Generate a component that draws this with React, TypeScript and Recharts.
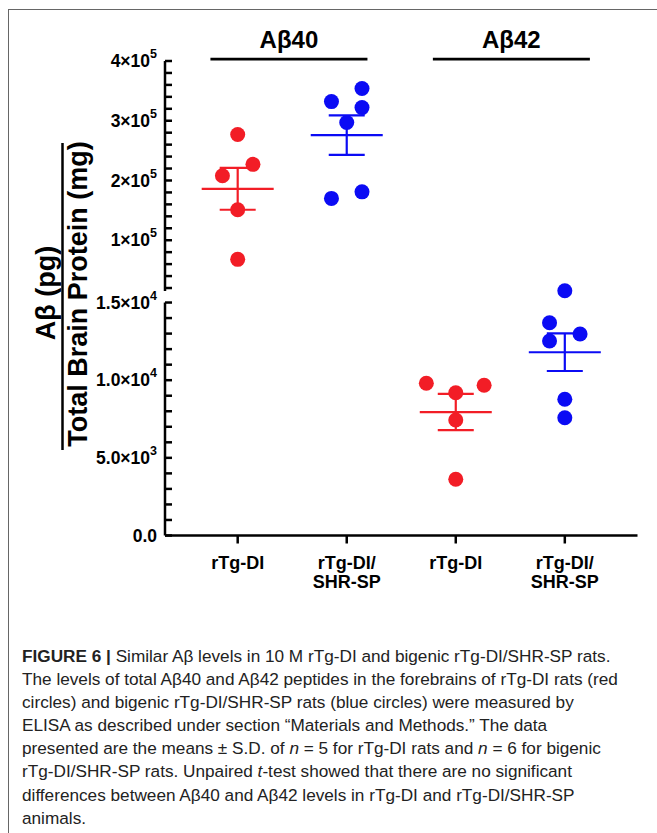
import React from "react";
import { ScatterChart, Scatter, XAxis, YAxis, ErrorBar, ReferenceLine } from "recharts";

// column positions on the x axis and their labels
const columns = [1, 2, 3, 4];
const columnLabels = [["rTg-DI"], ["rTg-DI/", "SHR-SP"], ["rTg-DI"], ["rTg-DI/", "SHR-SP"]];

// Aβ40, upper segment of the broken axis
const ab40Tg = [277000, 227000, 208000, 151000, 68000];
const ab40TgSpread = [0, 0.14, -0.14, 0, 0];
const ab40Bi = [354000, 332000, 322000, 297000, 181000, 170000];
const ab40BiSpread = [0.14, -0.14, 0.14, 0, 0.14, -0.14];

// Aβ42, lower segment
const ab42Tg = [9800, 9670, 9190, 7440, 3620];
const ab42TgSpread = [-0.27, 0.26, 0, 0, 0];
const ab42Bi = [15760, 13700, 12970, 12520, 8770, 7580];
const ab42BiSpread = [0, -0.14, 0.14, -0.14, 0, 0];

// mean and error bar per column
const means = [186000, 276000, 7950, 11800];
const errors = [35000, 33000, 1170, 1210];

// axis ticks
const upperTicks = [
  20000, 40000, 60000, 80000, 100000, 120000, 140000, 160000, 180000, 200000,
  220000, 240000, 260000, 280000, 300000, 320000, 340000, 360000, 380000, 400000,
];
const upperMajor = [100000, 200000, 300000, 400000];
const upperLabels = [["1×10", "5"], ["2×10", "5"], ["3×10", "5"], ["4×10", "5"]];
const lowerTicks = [
  0, 1000, 2000, 3000, 4000, 5000, 6000, 7000, 8000, 9000, 10000, 11000, 12000,
  13000, 14000, 15000,
];
const lowerMajor = [0, 5000, 10000, 15000];
const lowerLabels = [["0.0", ""], ["5.0×10", "3"], ["1.0×10", "4"], ["1.5×10", "4"]];

const groupTitles = ["Aβ40", "Aβ42"];
const groupSpans = [
  [0.75, 2.19],
  [2.79, 4.23],
];

const RED = "#f21d26";
const BLUE = "#0b0bf4";
const FONT = "'Liberation Sans', Arial, Helvetica, sans-serif";
const X_DOMAIN = [1 / 3, 14 / 3];

const toPoints = (col: number, vals: number[], spread: number[]) =>
  vals.map((v, i) => ({ x: col + spread[i], y: v }));

const meanRow = (i: number) => [{ x: columns[i], y: means[i], err: errors[i] }];

const Dot = (color: string) => (p: any) => <circle cx={p.cx} cy={p.cy} r={7.5} fill={color} />;

const MeanLine = (color: string) => (p: any) => (
  <line x1={p.cx - 36} x2={p.cx + 36} y1={p.cy} y2={p.cy} stroke={color} strokeWidth={2.2} />
);

const makeYTick = (major: number[], labels: string[][]) => (p: any) => {
  const { x, y, payload } = p;
  const i = major.indexOf(payload.value);
  return (
    <g>
      <line x1={x} x2={x + 7} y1={y} y2={y} stroke="#000" strokeWidth={2.5} />
      {i >= 0 && (
        <text
          x={x - 8}
          y={y + 6.2}
          textAnchor="end"
          fontFamily={FONT}
          fontWeight="bold"
          fontSize={17.5}
          fill="#000"
        >
          {labels[i][0]}
          {labels[i][1] && (
            <tspan dy={-9} fontSize={12.5}>
              {labels[i][1]}
            </tspan>
          )}
        </text>
      )}
    </g>
  );
};

const XTick = (p: any) => {
  const { x, y, payload } = p;
  const lines = columnLabels[columns.indexOf(payload.value)] || [];
  return (
    <g>
      <line x1={x} x2={x} y1={y} y2={y + 8} stroke="#000" strokeWidth={2.5} />
      {lines.map((t, k) => (
        <text
          key={k}
          x={x}
          y={y + 33.5 + k * 19}
          textAnchor="middle"
          fontFamily={FONT}
          fontWeight="bold"
          fontSize={18}
          fill="#000"
        >
          {t}
        </text>
      ))}
    </g>
  );
};

const captionLines: React.ReactNode[] = [
  <>
    <b>FIGURE 6 |</b> Similar Aβ levels in 10 M rTg-DI and bigenic rTg-DI/SHR-SP rats.
  </>,
  <>The levels of total Aβ40 and Aβ42 peptides in the forebrains of rTg-DI rats (red</>,
  <>circles) and bigenic rTg-DI/SHR-SP rats (blue circles) were measured by</>,
  <>ELISA as described under section “Materials and Methods.” The data</>,
  <>
    presented are the means ± S.D. of <i>n</i> = 5 for rTg-DI rats and <i>n</i> = 6 for bigenic
  </>,
  <>
    rTg-DI/SHR-SP rats. Unpaired <i>t</i>-test showed that there are no significant
  </>,
  <>differences between Aβ40 and Aβ42 levels in rTg-DI and rTg-DI/SHR-SP</>,
  <>animals.</>,
];

export default function App() {
  return (
    <div
      style={{
        position: "fixed",
        left: 0,
        top: 0,
        width: 657,
        height: 833,
        overflow: "hidden",
        background: "#fff",
      }}
    >
      <div
        style={{
          position: "absolute",
          left: 8,
          top: 9,
          width: 700,
          height: 900,
          border: "1px solid #666",
        }}
      />

      {/* upper segment: Aβ40 */}
      <div style={{ position: "absolute", left: 0, top: 0 }}>
        <ScatterChart width={657} height={300} margin={{ top: 61, right: 19.5, bottom: 9, left: 0 }}>
          <XAxis type="number" dataKey="x" domain={X_DOMAIN} hide />
          <YAxis
            type="number"
            dataKey="y"
            width={165}
            domain={[15000, 400000]}
            ticks={upperTicks}
            interval={0}
            tickSize={0}
            tickMargin={0}
            tickLine={false}
            axisLine={{ stroke: "#000", strokeWidth: 2.5 }}
            tick={makeYTick(upperMajor, upperLabels)}
          />
          {groupTitles.map((t, i) => (
            <ReferenceLine
              key={t}
              segment={[
                { x: groupSpans[i][0], y: 403000 },
                { x: groupSpans[i][1], y: 403000 },
              ]}
              stroke="#000"
              strokeWidth={2.8}
              ifOverflow="visible"
              label={{
                value: t,
                position: "top",
                offset: 11,
                fontSize: 24,
                fontWeight: "bold",
                fontFamily: FONT,
                fill: "#000",
              }}
            />
          ))}
          <Scatter data={toPoints(1, ab40Tg, ab40TgSpread)} shape={Dot(RED)} isAnimationActive={false} />
          <Scatter data={toPoints(2, ab40Bi, ab40BiSpread)} shape={Dot(BLUE)} isAnimationActive={false} />
          <Scatter data={meanRow(0)} shape={MeanLine(RED)} isAnimationActive={false}>
            <ErrorBar dataKey="err" direction="y" width={18} stroke={RED} strokeWidth={2.2} isAnimationActive={false} />
          </Scatter>
          <Scatter data={meanRow(1)} shape={MeanLine(BLUE)} isAnimationActive={false}>
            <ErrorBar dataKey="err" direction="y" width={18} stroke={BLUE} strokeWidth={2.2} isAnimationActive={false} />
          </Scatter>
        </ScatterChart>
      </div>

      {/* lower segment: Aβ42 */}
      <div style={{ position: "absolute", left: 0, top: 0 }}>
        <ScatterChart width={657} height={620} margin={{ top: 287, right: 19.5, bottom: 24.5, left: 0 }}>
          <XAxis
            type="number"
            dataKey="x"
            domain={X_DOMAIN}
            ticks={columns}
            interval={0}
            height={60}
            tickSize={0}
            tickMargin={0}
            tickLine={false}
            axisLine={{ stroke: "#000", strokeWidth: 2.5 }}
            tick={XTick}
          />
          <YAxis
            type="number"
            dataKey="y"
            width={165}
            domain={[0, 16000]}
            ticks={lowerTicks}
            interval={0}
            tickSize={0}
            tickMargin={0}
            tickLine={false}
            axisLine={false}
            tick={makeYTick(lowerMajor, lowerLabels)}
          />
          <ReferenceLine
            segment={[
              { x: X_DOMAIN[0], y: 0 },
              { x: X_DOMAIN[0], y: 15000 },
            ]}
            stroke="#000"
            strokeWidth={2.5}
            ifOverflow="visible"
          />
          <Scatter data={toPoints(3, ab42Tg, ab42TgSpread)} shape={Dot(RED)} isAnimationActive={false} />
          <Scatter data={toPoints(4, ab42Bi, ab42BiSpread)} shape={Dot(BLUE)} isAnimationActive={false} />
          <Scatter data={meanRow(2)} shape={MeanLine(RED)} isAnimationActive={false}>
            <ErrorBar dataKey="err" direction="y" width={18} stroke={RED} strokeWidth={2.2} isAnimationActive={false} />
          </Scatter>
          <Scatter data={meanRow(3)} shape={MeanLine(BLUE)} isAnimationActive={false}>
            <ErrorBar dataKey="err" direction="y" width={18} stroke={BLUE} strokeWidth={2.2} isAnimationActive={false} />
          </Scatter>
        </ScatterChart>
      </div>

      {/* y axis title as a fraction */}
      <svg width={657} height={620} style={{ position: "absolute", left: 0, top: 0, pointerEvents: "none" }}>
        <text
          transform="translate(55,293) rotate(-90)"
          textAnchor="middle"
          fontFamily={FONT}
          fontWeight="bold"
          fontSize={27}
          fill="#000"
        >
          Aβ (pg)
        </text>
        <line x1={62.5} x2={62.5} y1={143} y2={450} stroke="#000" strokeWidth={2.5} />
        <text
          transform="translate(87,294) rotate(-90)"
          textAnchor="middle"
          fontFamily={FONT}
          fontWeight="bold"
          fontSize={27}
          fill="#000"
        >
          Total Brain Protein (mg)
        </text>
      </svg>

      <div
        style={{
          position: "absolute",
          left: 22,
          top: 645,
          fontFamily: FONT,
          fontSize: 17.2,
          lineHeight: "23.1px",
          color: "#222",
          whiteSpace: "nowrap",
        }}
      >
        {captionLines.map((l, i) => (
          <div key={i}>{l}</div>
        ))}
      </div>
    </div>
  );
}
